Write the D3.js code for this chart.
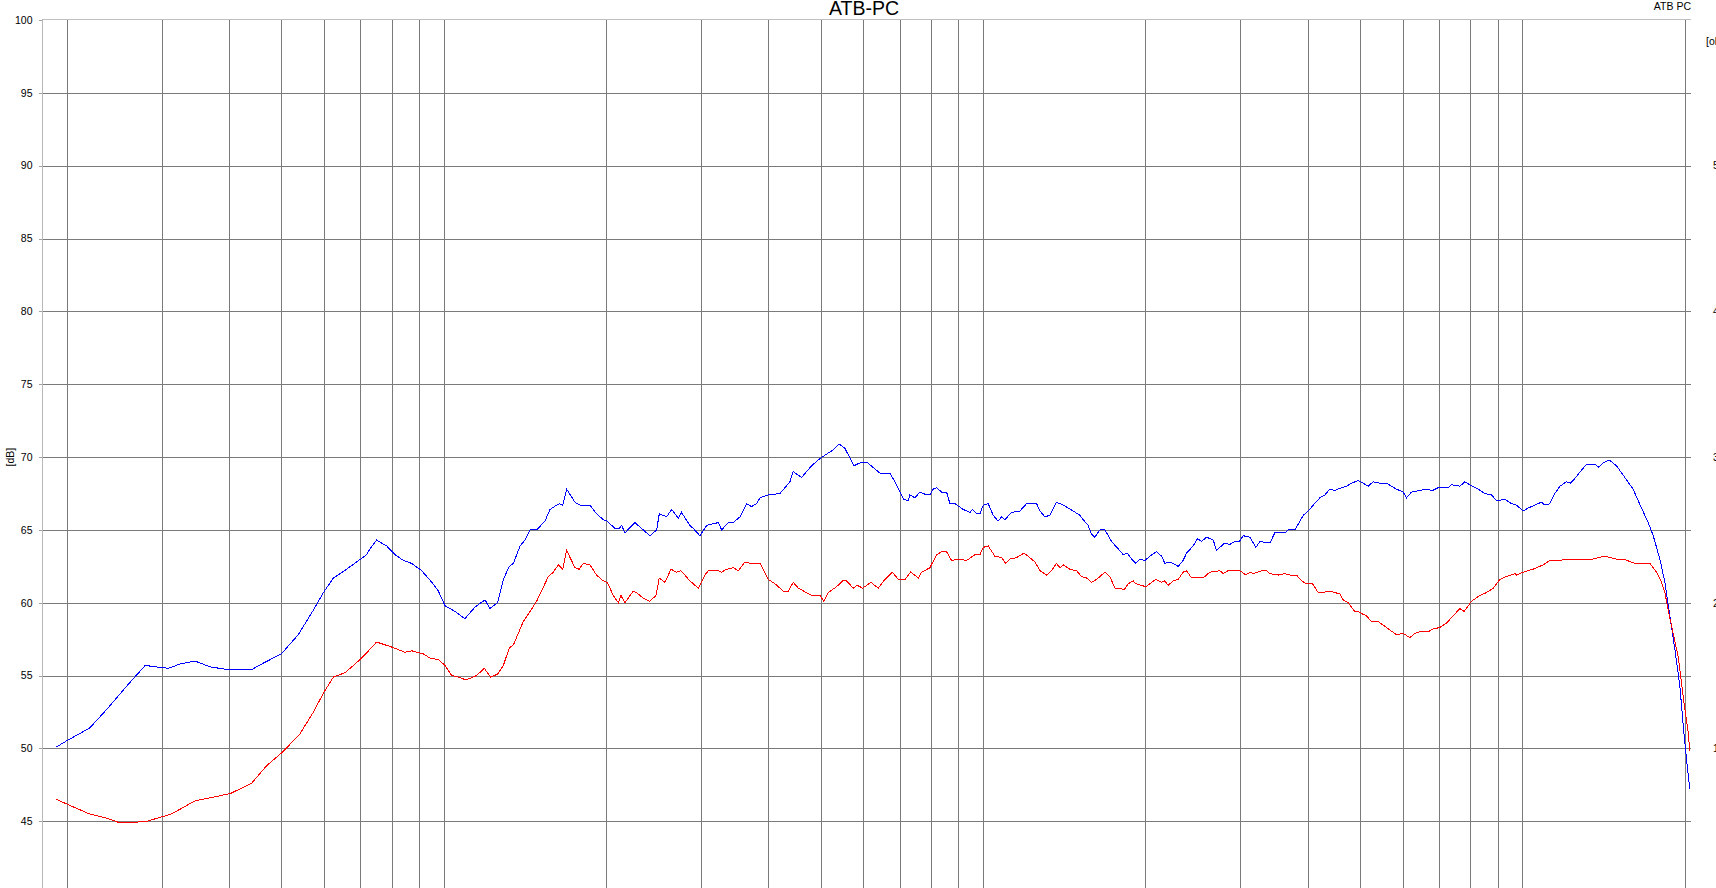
<!DOCTYPE html>
<html><head><meta charset="utf-8">
<script src="https://cdn.jsdelivr.net/npm/d3@7"></script>
<style>
html,body{margin:0;padding:0;background:#fff;overflow:hidden}
svg{display:block}
text{font-family:"Liberation Sans",Arial,sans-serif;fill:#000}
</style></head><body>
<svg id="chart" width="1716" height="888"></svg>
<script>
const chartTitle = "ATB-PC";
const seriesLabel = "ATB PC";
const yAxisLabel = "[dB]";
const rightAxisLabel = "[ohm]";
const yTicks = [100, 95, 90, 85, 80, 75, 70, 65, 60, 55, 50, 45];
const rightTicks = [5, 4, 3, 2, 1];
const xGrid = [20, 30, 40, 50, 60, 70, 80, 90, 100, 200, 300, 400, 500, 600, 700, 800, 900, 1000,
  2000, 3000, 4000, 5000, 6000, 7000, 8000, 9000, 10000, 20000];

const blueFreq = [19.1,19.9,22.0,23.7,25.8,27.9,29.1,30.8,32.4,34.5,36.8,39.8,43.9,45.9,49.9,53.6,57.2,59.7,62.3,65.9,71.8,
  72.8,74.9,78.2,81.0,84.0,87.0,90.8,94.8,97.5,100.3,104.7,109.2,114.0,119.0,121.5,125.6,128.7,132.0,134.3,138.2,141.1,144.2,148.3,153.7,157.0,161.6,163.4,165.8,168.6,174.7,178.4,186.2,191.6,197.2,200.5,207.2,211.1,213.2,216.3,225.7,232.2,240.6,247.6,250.4,258.4,264.0,271.6,275.4,285.4,289.5,297.9,
  306.5,313.1,322.1,326.8,336.2,343.5,353.4,363.6,371.4,379.5,384.9,398.8,419.1,437.4,443.6,459.7,479.8,497.2,511.5,526.3,539.9,553.1,574.8,589.7,609.4,642.3,670.4,684.8,699.6,711.6,724.9,730.0,745.8,761.9,783.9,795.1,806.5,818.0,835.7,853.8,866.1,884.8,916.9,943.3,954.1,970.5,984.4,998.4,1020,1042,1064,1080,1095,1127,1168,1201,1254,
  1272,1299,1327,1365,1405,1466,1508,1530,1563,1585,1608,1643,1678,1727,1776,1815,1846,1881,1916,1949,1991,2034,2092,2138,2168,2215,2295,2344,2378,2447,2492,2535,2590,2665,2703,2761,2801,2861,2923,2978,3029,3117,3198,3253,3395,3467,3619,3671,3777,3914,3998,4085,4202,4293,4386,4480,4609,4709,4811,4949,
  5165,5277,5429,5585,5829,5997,6083,6215,6439,6625,6797,6963,7266,7370,7638,7803,7971,8260,8499,8744,8933,9256,9524,9729,10010,10220,10520,10820,10980,11210,11460,11710,12040,12250,12530,12840,13120,13590,13830,14080,14450,14910,15450,16000,16590,17070,17440,17940,18330,18720,19130,19540,19820,20100,20390];
const blueDb = [50.1,50.5,51.4,52.7,54.3,55.7,55.6,55.5,55.8,56.0,55.6,55.4,55.4,55.8,56.5,57.8,59.5,60.7,61.7,62.3,63.3,
  63.7,64.3,63.9,63.3,62.9,62.7,62.2,61.4,60.8,59.8,59.4,58.9,59.7,60.2,59.6,60.0,61.6,62.5,62.7,63.9,64.3,65.0,65.0,65.6,66.4,66.7,66.8,66.7,67.8,66.9,66.7,66.7,66.1,65.7,65.6,65.1,65.1,65.3,64.8,65.5,65.1,64.6,65.0,66.1,65.9,66.4,65.8,66.2,65.3,65.1,64.6,
  65.3,65.4,65.5,65.0,65.5,65.5,65.9,66.8,66.6,66.8,67.2,67.4,67.5,68.3,69.0,68.6,69.4,69.9,70.2,70.5,70.9,70.6,69.4,69.6,69.6,68.9,68.9,68.3,67.6,67.1,67.0,67.4,67.2,67.6,67.4,67.4,67.8,67.9,67.6,67.6,66.8,66.8,66.4,66.2,66.4,66.1,66.1,66.7,66.8,66.0,65.6,65.9,65.7,66.2,66.3,66.8,66.8,
  66.3,65.9,66.0,66.9,66.7,66.3,66.0,65.7,65.3,64.7,64.5,65.0,65.0,64.2,63.7,63.3,63.4,63.0,62.7,63.0,62.9,63.2,63.5,63.2,62.7,62.8,62.5,62.9,63.4,63.9,64.4,64.2,64.5,64.3,63.6,63.9,64.1,64.0,64.2,64.2,64.6,64.5,63.8,64.2,64.1,64.8,64.8,65.0,65.0,66.0,66.3,66.7,67.2,67.4,67.8,67.7,67.9,68.0,68.2,68.4,
  68.0,68.3,68.2,68.2,67.8,67.6,67.2,67.6,67.7,67.8,67.7,67.9,67.9,68.1,68.0,68.3,68.1,67.8,67.5,67.4,67.0,67.1,66.8,66.7,66.3,66.5,66.7,66.9,66.7,66.8,67.5,68.0,68.3,68.2,68.6,69.1,69.5,69.5,69.3,69.6,69.8,69.4,68.6,67.8,66.5,65.5,64.6,63.0,61.4,59.1,56.8,54.3,51.6,49.3,47.2];

const redFreq = [19.1,19.9,22.0,23.7,25.0,26.1,28.1,31.2,34.5,37.8,40.1,43.9,46.8,50.3,54.0,57.2,59.7,62.3,65.5,69.8,
  72.8,74.9,79.3,84.6,87.0,91.4,94.1,97.5,100.3,103.2,106.2,109.7,114.8,118.6,121.9,125.6,128.7,132.0,134.3,140.1,144.2,148.3,151.5,155.9,159.3,162.7,165.8,168.6,174.7,177.9,181.0,186.2,191.6,197.2,200.5,205.8,210.2,212.6,216.3,224.1,227.3,233.9,240.6,246.9,250.4,256.6,263.2,269.6,274.7,285.4,295.8,304.3,
  308.7,322.1,326.8,333.8,343.5,350.9,361.0,368.8,384.9,390.4,398.8,410.3,425.2,434.4,443.6,453.4,479.8,497.2,505.8,515.1,533.8,547.7,557.1,573.2,583.1,596.5,618.1,637.7,656.2,677.1,694.7,714.8,732.3,756.6,767.4,795.1,818.0,835.7,853.8,872.1,897.5,930.0,963.7,984.4,998.4,1020,1049,1080,1098,1119,1151,1188,1209,1245,1272,
  1309,1337,1365,1385,1405,1445,1487,1519,1552,1585,1620,1678,1714,1752,1788,1822,1854,1894,1916,1999,2086,2138,2168,2199,2247,2295,2344,2378,2429,2553,2627,2742,2781,2841,2923,2986,3064,3117,3162,3276,3347,3395,3518,3619,3698,3804,3886,3970,4073,4172,4263,4373,4480,4576,4642,4742,4879,4949,5056,5129,
  5240,5391,5585,5829,5997,6171,6304,6439,6672,6816,7013,7216,7424,7638,7780,8028,8319,8560,8807,9061,9322,9661,9729,10010,10440,10900,11210,11710,12040,13500,14180,14910,15340,16120,16710,17190,17690,18070,18330,18590,18990,19400,19680,19960,20250,20390];
const redDb = [46.5,46.2,45.5,45.2,44.9,44.9,45.0,45.5,46.4,46.7,46.9,47.6,48.8,49.8,51.0,52.5,53.8,54.9,55.2,56.1,
  56.8,57.3,57.0,56.6,56.7,56.5,56.2,56.1,55.7,55.0,54.9,54.7,55.0,55.5,54.9,55.1,55.7,56.9,57.1,58.7,59.4,60.1,60.8,61.8,62.1,62.6,62.3,63.6,62.4,62.3,62.7,62.6,61.9,61.5,61.4,60.5,60.0,60.5,60.0,60.8,60.7,60.3,60.1,60.5,61.7,61.4,62.3,62.1,62.2,61.5,61.0,61.9,
  62.2,62.2,62.1,62.3,62.4,62.2,62.8,62.7,62.7,62.3,61.6,61.3,60.8,60.8,61.4,61.0,60.5,60.5,60.1,60.7,61.1,61.5,61.5,61.0,61.2,61.0,61.4,61.0,61.6,62.1,61.6,61.6,62.1,61.7,62.1,62.4,63.3,63.5,63.5,62.9,63.0,62.9,63.3,63.3,63.8,63.9,63.2,63.1,62.7,63.0,63.1,63.4,63.2,62.8,62.2,
  61.9,62.2,62.7,62.4,62.6,62.3,62.2,61.8,61.7,61.4,61.6,62.1,61.8,61.0,61.0,60.9,61.3,61.5,61.3,61.1,61.6,61.4,61.5,61.2,61.5,61.6,62.1,62.2,61.7,61.7,62.1,62.2,62.0,62.2,62.2,62.2,61.9,62.1,62.0,62.2,62.2,62.0,61.9,62.0,61.9,61.9,61.5,61.3,61.3,60.7,60.7,60.8,60.7,60.6,60.2,60.0,59.4,59.4,59.2,59.1,
  58.7,58.7,58.3,57.8,57.9,57.6,57.9,58.0,58.0,58.2,58.3,58.6,59.1,59.6,59.4,60.1,60.5,60.7,61.0,61.6,61.8,62.0,61.9,62.1,62.3,62.6,62.9,62.9,63.0,63.0,63.2,63.0,63.0,62.7,62.7,62.7,62.1,61.4,60.7,59.5,57.9,56.3,54.5,52.7,51.1,49.8];

const svg = d3.select("#chart");
const x = d3.scaleLog().domain([20, 20000]).range([67.3, 1685.3]);
const y = d3.scaleLinear().domain([40, 100]).range([894.1, 20]);
const yR = d3.scaleLinear().domain([0, 6]).range([894.1, 20]);
const plotLeft = 42, plotRight = 1691, plotTop = 19, plotBottom = 894;
const crisp = v => Math.round(v) + 0.5;

// horizontal grid
svg.append("g").selectAll("line").data(yTicks.filter(v => v !== 100)).join("line")
  .attr("x1", plotLeft).attr("x2", plotRight)
  .attr("y1", d => crisp(y(d))).attr("y2", d => crisp(y(d)))
  .attr("stroke", "#7a7a7a").attr("stroke-width", 1).attr("shape-rendering", "crispEdges");

// vertical grid
svg.append("g").selectAll("line").data(xGrid).join("line")
  .attr("x1", d => Math.floor(x(d)) + 0.5).attr("x2", d => Math.floor(x(d)) + 0.5)
  .attr("y1", plotTop).attr("y2", plotBottom)
  .attr("stroke", "#7a7a7a").attr("stroke-width", 1).attr("shape-rendering", "crispEdges");

// frame: top and left
svg.append("line").attr("x1", plotLeft).attr("x2", plotRight).attr("y1", plotTop + 0.5).attr("y2", plotTop + 0.5)
  .attr("stroke", "#c0c0c0").attr("shape-rendering", "crispEdges");
svg.append("line").attr("x1", plotLeft + 0.5).attr("x2", plotLeft + 0.5).attr("y1", plotTop).attr("y2", plotBottom)
  .attr("stroke", "#b8b8b8").attr("shape-rendering", "crispEdges");

// left ticks
svg.append("g").selectAll("line").data(yTicks).join("line")
  .attr("x1", plotLeft - 3).attr("x2", plotLeft)
  .attr("y1", d => crisp(y(d))).attr("y2", d => crisp(y(d)))
  .attr("stroke", "#a0a0a0").attr("shape-rendering", "crispEdges");

// left labels
svg.append("g").selectAll("text").data(yTicks).join("text")
  .attr("x", 32.5).attr("y", d => y(d)).attr("dy", "0.36em")
  .attr("text-anchor", "end").attr("font-size", "10.5px").text(d => d);

svg.append("text").attr("transform", `translate(14,${y(70)}) rotate(-90)`)
  .attr("text-anchor", "middle").attr("font-size", "10.5px").text(yAxisLabel);

// right labels (cut off by the window edge, as in the reference)
svg.append("g").selectAll("text").data(rightTicks).join("text")
  .attr("x", 1713).attr("y", d => yR(d)).attr("dy", "0.36em")
  .attr("text-anchor", "start").attr("font-size", "10.5px").text(d => d);
svg.append("text").attr("x", 1706).attr("y", 41.5).attr("dy", "0.36em")
  .attr("font-size", "10.5px").text(rightAxisLabel);

// titles
svg.append("text").attr("x", 864).attr("y", 14.5).attr("text-anchor", "middle")
  .attr("font-size", "19.5px").text(chartTitle);
svg.append("text").attr("x", plotRight).attr("y", 10).attr("text-anchor", "end")
  .attr("font-size", "10.5px").text(seriesLabel);

// curves
const line = d3.line().x(d => x(d[0])).y(d => y(d[1]));
const blue = blueFreq.map((f, i) => [f, blueDb[i]]);
const red = redFreq.map((f, i) => [f, redDb[i]]);
svg.append("path").datum(blue).attr("d", line).attr("fill", "none")
  .attr("stroke", "#0000ff").attr("stroke-width", 1).attr("shape-rendering", "crispEdges");
svg.append("path").datum(red).attr("d", line).attr("fill", "none")
  .attr("stroke", "#ff0000").attr("stroke-width", 1).attr("shape-rendering", "crispEdges");
</script>
</body></html>
